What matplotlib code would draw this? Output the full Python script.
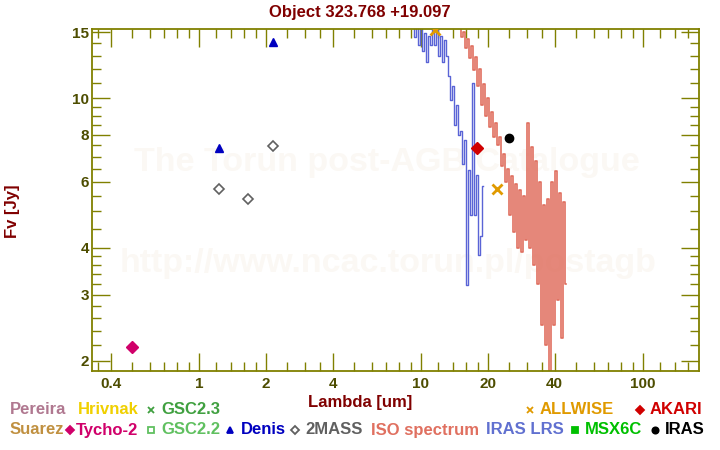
import matplotlib
matplotlib.use('Agg')
import matplotlib.pyplot as plt
from matplotlib.lines import Line2D
from matplotlib.ticker import NullFormatter

plt.rcParams['font.family'] = ['Liberation Sans', 'DejaVu Sans']
plt.rcParams['font.weight'] = 'bold'

title = 'Object 323.768 +19.097'

# photometry [um], [Jy]
tycho_lam = [0.50]
tycho_fv = [2.18]
denis_lam = [1.23, 2.15]
denis_fv = [7.38, 14.1]
mass_lam = [1.23, 1.66, 2.15]
mass_fv = [5.74, 5.40, 7.47]
allwise_lam = [11.56, 22.1]
allwise_fv = [15.2, 5.73]
akari_lam = [17.9]
akari_fv = [7.36]
iras_lam = [25.0]
iras_fv = [7.83]

# IRAS LRS spectrum
lrs_lam = [9.18, 9.37, 9.57, 9.77, 9.98, 10.19, 10.40, 10.62, 10.84, 11.07,
           11.30, 11.54, 11.78, 12.03, 12.28, 12.54, 12.80, 13.07, 13.35, 13.63,
           13.91, 14.21, 14.50, 14.81, 15.12, 15.44, 15.76, 16.09, 16.43, 16.78,
           17.13, 17.49, 17.86, 18.23, 18.61, 19.00]
lrs_fv = [15.6, 14.6, 15.5, 13.9, 15.4, 13.4, 14.9, 12.5, 14.7, 13.9,
          15.6, 13.9, 15.5, 13.0, 14.7, 12.5, 14.3, 13.0, 11.5, 9.9,
          10.8, 8.5, 9.6, 8.0, 8.2, 6.7, 7.75, 3.19, 6.45, 4.9,
          11.0, 4.9, 6.25, 3.83, 4.3, 5.85]

# ISO spectrum
iso_lam = [14.94, 15.25, 15.57, 15.90, 16.24, 16.58, 16.93, 17.28, 17.65, 18.02,
           18.40, 18.78, 19.18, 19.58, 19.99, 20.41, 20.84, 21.28, 21.73, 22.19,
           22.65, 23.13, 23.61, 24.11, 24.62, 25.13, 25.66, 26.20, 26.75, 27.31,
           27.89, 28.47, 29.07, 29.68, 30.31, 30.94, 31.59, 32.26, 32.93, 33.63,
           34.33, 35.05, 35.79, 36.54, 37.31, 38.09, 38.89, 39.71, 40.55, 41.40,
           42.27, 43.16, 44.06, 44.99]
iso_fv = [16.0, 14.6, 15.0, 13.6, 14.4, 12.8, 13.8, 11.9, 12.9, 10.8,
          12.0, 9.6, 10.9, 9.0, 10.0, 8.4, 9.2, 7.9, 8.6, 7.5,
          7.9, 6.6, 7.1, 6.0, 6.5, 4.9, 6.2, 4.4, 5.9, 4.0,
          5.7, 3.9, 5.5, 4.2, 8.6, 4.0, 7.4, 3.6, 6.8, 3.2,
          6.0, 2.5, 5.2, 2.2, 5.4, 1.85, 6.0, 2.5, 6.4, 2.9,
          5.6, 2.3, 5.3, 3.2]

xticks = [0.4, 1, 2, 4, 10, 20, 40, 100]
xminor = [0.35, 0.5, 0.6, 0.7, 0.8, 0.9, 1.2, 1.4, 1.6, 1.8, 2.5, 3, 3.5,
          5, 6, 7, 8, 9, 12, 14, 16, 18, 25, 30, 35, 50, 60, 70, 80, 90,
          120, 140, 160]
yticks = [2, 3, 4, 6, 8, 10, 15]
yminor = [2.2, 2.4, 2.6, 2.8, 3.2, 3.4, 3.6, 3.8, 4.5, 5, 5.5, 6.5, 7, 7.5,
          8.5, 9, 9.5, 11, 12, 13, 14]

olive = '#808000'
dark_red = '#800000'

fig = plt.figure(figsize=(7.2, 4.5), dpi=100)
ax = fig.add_axes([92 / 720, 1 - 371 / 450, 607 / 720, 342 / 450])
ax.set_xscale('log')
ax.set_yscale('log')

# watermark
ax.text(0.537, 0.64, 'The Torun post-AGB Catalogue', transform=fig.transFigure,
        ha='center', va='center', fontsize=24.5, color='#fbf8f4', zorder=0.5)
ax.text(0.539, 0.415, 'http://www.ncac.torun.pl/postagb', transform=fig.transFigure,
        ha='center', va='center', fontsize=24.5, color='#fbf8f4', zorder=0.5)

ax.plot(lrs_lam, lrs_fv, drawstyle='steps-mid', color='#5a64d6', lw=1.0, zorder=2)
ax.plot(iso_lam, iso_fv, drawstyle='steps-mid', color='#e07060', lw=1.2, zorder=2.1)

ax.plot(tycho_lam, tycho_fv, 'D', color='#d0006a', ms=6, zorder=3)
ax.plot(denis_lam, denis_fv, '^', color='#0000c0', ms=6, zorder=3)
ax.plot(mass_lam, mass_fv, 'D', mfc='white', mec='#606060', mew=1.2, ms=5.5, zorder=3)
ax.plot(allwise_lam, allwise_fv, 'x', color='#e09a00', ms=7, mew=2, zorder=3)
ax.plot(akari_lam, akari_fv, 'D', color='#d00000', ms=6, zorder=3)
ax.plot(iras_lam, iras_fv, 'o', color='black', ms=6, zorder=3)

ax.set_xlim(0.33, 179)
ax.set_ylim(1.88, 15.3)

ax.set_xticks(xticks, [str(t) for t in xticks])
ax.set_xticks(xminor, minor=True)
ax.set_yticks(yticks, [str(t) for t in yticks])
ax.set_yticks(yminor, minor=True)
ax.xaxis.set_minor_formatter(NullFormatter())
ax.yaxis.set_minor_formatter(NullFormatter())
ax.tick_params(which='both', direction='in', top=True, right=True, color=olive,
               labelcolor='#4d4d00', labelsize=11, width=1)
ax.tick_params(which='major', length=13, pad=4)
ax.tick_params(which='minor', length=6.5)
ax.tick_params(axis='y', pad=2)
for s in ax.spines.values():
    s.set_color(olive)
    s.set_linewidth(1.3)

fig.text(0.5, 1 - 12 / 450, title, ha='center', va='center', fontsize=12, color=dark_red)
fig.text(0.5, 1 - 403 / 450, 'Lambda [um]', ha='center', va='center', fontsize=12, color=dark_red)
fig.text(13 / 720, 1 - 211 / 450, 'Fv [Jy]', ha='center', va='center', fontsize=12,
         color=dark_red, rotation=90)

# legend: (x of text, row y, label, colour, marker, x of marker, filled)
legend_items = [
    (10, 410, 'Pereira', '#b07890', None, 0, True),
    (78, 410, 'Hrivnak', '#f0d000', None, 0, True),
    (161, 410, 'GSC2.3', '#40a040', 'x', 151, True),
    (540, 410, 'ALLWISE', '#e09a00', 'x', 530, True),
    (650, 410, 'AKARI', '#d00000', 'D', 640, True),
    (10, 430, 'Suarez', '#c09040', None, 0, True),
    (76, 430, 'Tycho-2', '#d0006a', 'D', 70, True),
    (161, 430, 'GSC2.2', '#60c060', 's', 151, False),
    (241, 430, 'Denis', '#0000c0', '^', 230, True),
    (305, 430, '2MASS', '#606060', 'D', 295, False),
    (371, 430, 'ISO spectrum', '#e07060', None, 0, True),
    (486, 430, 'IRAS LRS', '#6070d0', None, 0, True),
    (585, 430, 'MSX6C', '#00c000', 's', 575, True),
    (665, 430, 'IRAS', 'black', 'o', 655, True),
]
for x, y, label, c, m, mx, filled in legend_items:
    fig.text(x / 720, 1 - y / 450, label, ha='left', va='center', fontsize=12, color=c)
    if m is not None:
        fig.add_artist(Line2D([mx / 720], [1 - y / 450], transform=fig.transFigure,
                              marker=m, ls='none', ms=4.5, color=c,
                              mfc=c if filled else 'white', mec=c, mew=1.3))

fig.savefig('out.png', dpi=100)
